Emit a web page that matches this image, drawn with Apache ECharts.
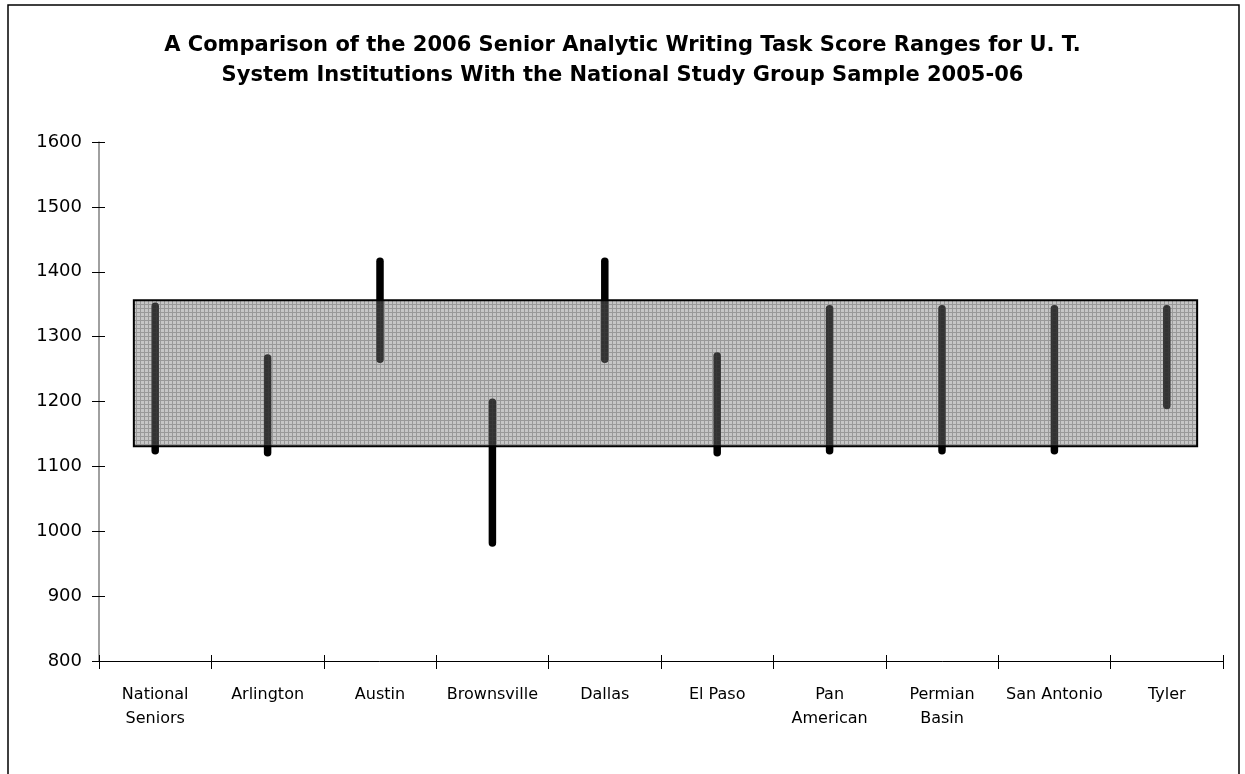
<!DOCTYPE html>
<html>
<head>
<meta charset="utf-8">
<script src="https://cdn.jsdelivr.net/npm/echarts@6/dist/echarts.min.js"></script>
<style>
  html, body { margin: 0; padding: 0; background: #fff; }
  #chart { width: 1245px; height: 774px; }
</style>
</head>
<body>
<div id="chart"></div>
<script>
// institutions and their score ranges (low / high)
const categories = ['National\nSeniors', 'Arlington', 'Austin', 'Brownsville', 'Dallas',
  'El Paso', 'Pan\nAmerican', 'Permian\nBasin', 'San Antonio', 'Tyler'];
const lows  = [1124, 1121, 1265, 982, 1265, 1121, 1124, 1124, 1124, 1194];
const highs = [1347, 1267, 1416, 1199, 1416, 1270, 1343, 1343, 1343, 1343];

// national study group band
const bandLow = 1131;
const bandHigh = 1356;
const bandFrom = 0.31;   // in category units along the axis
const bandTo = 9.77;

// grey grid-like fill for the band
const pat = document.createElement('canvas');
pat.width = 4; pat.height = 4;
const pc = pat.getContext('2d');
pc.fillStyle = 'rgba(120,120,120,0.42)';
pc.fillRect(0, 0, 4, 4);
pc.fillStyle = 'rgba(70,70,70,0.35)';
pc.fillRect(0, 0, 4, 1);
pc.fillRect(0, 1, 1, 3);

const font = 'DejaVu Sans';

let chart = echarts.init(document.getElementById('chart'));

const option = {
  backgroundColor: '#fff',
  animation: false,
  title: {
    text: 'A Comparison of the 2006 Senior Analytic Writing Task Score Ranges for U. T.\nSystem Institutions With the National Study Group Sample 2005-06',
    left: 'center',
    top: 26,
    textStyle: { fontFamily: font, fontWeight: 'bold', fontSize: 21, color: '#000', lineHeight: 30 }
  },
  graphic: [{
    type: 'rect',
    shape: { x: 8, y: 5, width: 1231, height: 800 },
    style: { fill: 'none', stroke: '#000', lineWidth: 1.5 },
    silent: true
  }],
  grid: { left: 99, right: 22, top: 142, bottom: 113 },
  xAxis: [{
    type: 'category',
    data: categories,
    boundaryGap: true,
    axisLine: { lineStyle: { color: '#000', width: 1 } },
    axisTick: { show: true, length: 8, lineStyle: { color: '#000' } },
    axisLabel: { fontFamily: font, fontSize: 16, color: '#000', margin: 22, lineHeight: 24, interval: 0 },
    splitLine: { show: false }
  }, {
    type: 'value',
    min: 0, max: 10,
    show: false
  }, {
    type: 'category',
    data: categories,
    position: 'bottom',
    axisLine: { show: false },
    axisTick: { show: true, inside: true, length: 6, lineStyle: { color: '#000' } },
    axisLabel: { show: false }
  }],
  yAxis: [{
    type: 'value',
    min: 800, max: 1600, interval: 100,
    axisLine: { show: true, lineStyle: { color: '#808080', width: 1.5 } },
    axisTick: { show: true, length: 7, lineStyle: { color: '#000' } },
    axisLabel: { fontFamily: font, fontSize: 18, color: '#000', margin: 17, formatter: v => String(v) },
    splitLine: { show: false }
  }, {
    type: 'value',
    min: 800, max: 1600, interval: 100,
    position: 'left',
    axisLine: { show: false },
    axisTick: { show: true, inside: true, length: 6, lineStyle: { color: '#000' } },
    axisLabel: { show: false },
    splitLine: { show: false }
  }],
  series: [{
    name: 'Range',
    type: 'custom',
    xAxisIndex: 0,
    yAxisIndex: 0,
    z: 2,
    data: categories.map((c, i) => [i, lows[i], highs[i]]),
    renderItem(params, api) {
      const lo = api.coord([api.value(0), api.value(1)]);
      const hi = api.coord([api.value(0), api.value(2)]);
      return {
        type: 'line',
        shape: { x1: lo[0], y1: lo[1], x2: hi[0], y2: hi[1] },
        style: { stroke: '#000', lineWidth: 7.5, lineCap: 'round' }
      };
    }
  }, {
    name: 'National band',
    type: 'custom',
    xAxisIndex: 1,
    yAxisIndex: 0,
    z: 3,
    data: [[bandFrom, bandTo, bandLow, bandHigh]],
    renderItem(params, api) {
      const p1 = api.coord([api.value(0), api.value(3)]);
      const p2 = api.coord([api.value(1), api.value(2)]);
      return {
        type: 'rect',
        shape: { x: p1[0], y: p1[1], width: p2[0] - p1[0], height: p2[1] - p1[1] },
        style: { fill: { image: pat, repeat: 'repeat' }, stroke: '#000', lineWidth: 2 }
      };
    }
  }]
};

chart.setOption(option);
</script>
</body>
</html>
